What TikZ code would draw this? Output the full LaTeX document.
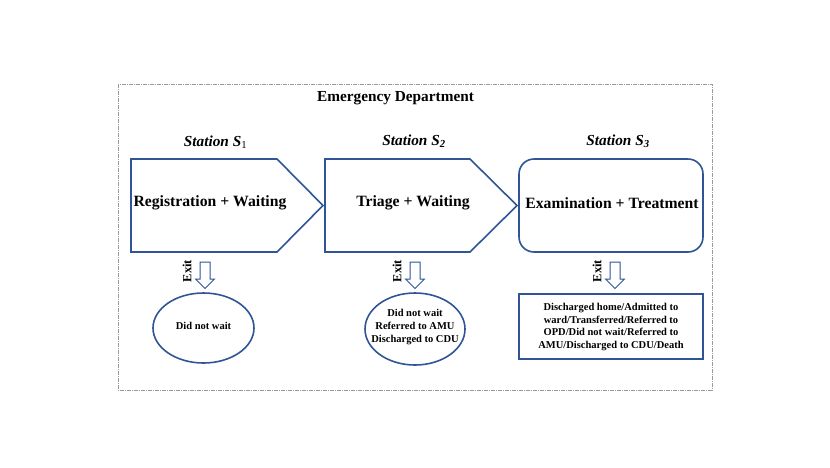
\documentclass[tikz,border=0pt]{standalone}
\usepackage{fontspec}
\setmainfont{Liberation Serif}
\definecolor{edblue}{HTML}{2F5597}
\definecolor{edgray}{HTML}{9A9A9A}
\begin{document}
\begin{tikzpicture}[x=1pt,y=-1pt,
  box/.style={draw=edblue,line width=1.6pt,fill=white},
  lbl/.style={font=\fontsize{15.7}{18}\selectfont\bfseries,inner sep=0pt},
  stlbl/.style={font=\fontsize{15.3}{17}\selectfont\bfseries\itshape,inner sep=0pt},
  small/.style={font=\fontsize{10.5}{12.6}\selectfont\bfseries,align=center,inner sep=0pt},
  exitlbl/.style={font=\fontsize{12.5}{14}\selectfont\bfseries,rotate=90,inner sep=0pt},
  hollow/.style={draw=edblue,line width=1pt,fill=white,line join=miter},
  frame/.style={draw=edgray,line width=0.6pt,dash pattern=on 4pt off 1pt on 1pt off 1pt}]
\useasboundingbox (0,0) rectangle (830,467);
% outer frame
\draw[frame] (118,84) rectangle (712,390);
\node[font=\fontsize{15.3}{17}\selectfont\bfseries,inner sep=0pt] (title) at (395.5,98) {Emergency Department};
% station labels
\node[stlbl] (st1) at (215.5,142) {Station S\textsubscript{\upshape\mdseries 1}};
\node[stlbl] (st2) at (414,141) {Station S\textsubscript{2}};
\node[stlbl] (st3) at (618,141) {Station S\textsubscript{3}};
% station shapes
\draw[box] (131,159) -- (277,159) -- (323,205.5) -- (277,252) -- (131,252) -- cycle;
\draw[box] (325,159) -- (470,159) -- (517,205.5) -- (470,252) -- (325,252) -- cycle;
\draw[box,rounded corners=15pt] (519,159) rectangle (703,252);
\node[lbl] (s1) at (210,203) {Registration + Waiting};
\node[lbl] (s2) at (413,203) {Triage + Waiting};
\node[lbl] (s3) at (612,203) {Examination + Treatment};
% exit arrows
\foreach \x in {205,415,615}{
  \draw[hollow] (\x-5,262) -- (\x+5,262) -- (\x+5,279) -- (\x+9.5,279) -- (\x,288.5) -- (\x-9.5,279) -- (\x-5,279) -- cycle;
}
\node[exitlbl] (e1) at (187,271) {Exit};
\node[exitlbl] (e2) at (397,271) {Exit};
\node[exitlbl] (e3) at (597,271) {Exit};
% outcomes
\draw[box] (203.5,328) ellipse [x radius=50.5,y radius=35];
\node[small] (o1) at (203.5,326) {Did not wait};
\draw[box] (415,329) ellipse [x radius=50,y radius=36];
\node[small] (o2) at (415,327) {Did not wait\\Referred to AMU\\Discharged to CDU};
\draw[box] (519,294) rectangle (703,359);
\node[small] (o3) at (611,327) {Discharged home/Admitted to\\ward/Transferred/Referred to\\OPD/Did not wait/Referred to\\AMU/Discharged to CDU/Death};
\end{tikzpicture}
\end{document}
